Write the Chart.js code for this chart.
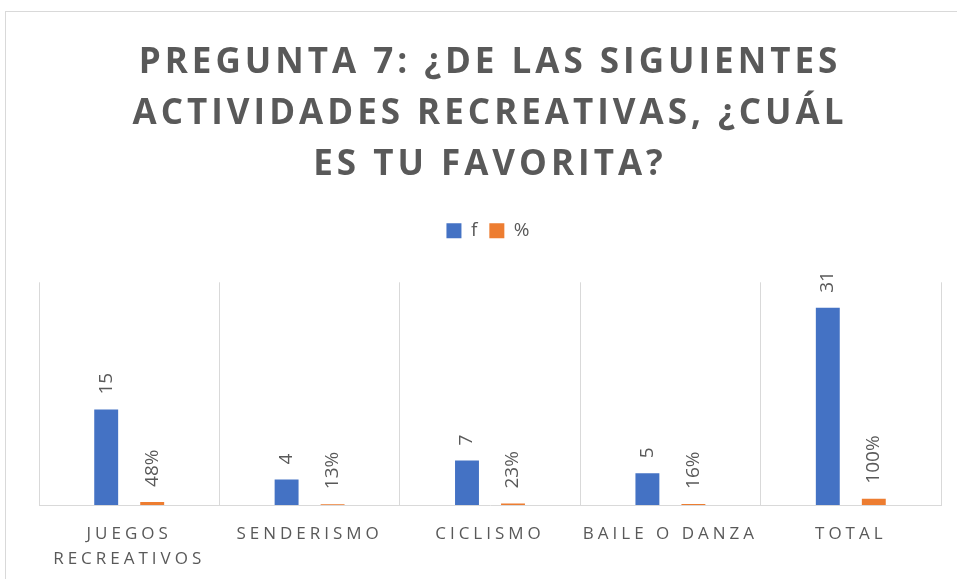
<!DOCTYPE html>
<html>
<head>
<meta charset="utf-8">
<script src="https://cdn.jsdelivr.net/npm/chart.js@4.4.1/dist/chart.umd.min.js"></script>
<style>
    html, body { margin: 0; padding: 0; background: #fff; overflow: hidden; }
    #frame { position: absolute; left: 5px; top: 11px; width: 1000px; height: 1000px; border: 1px solid #d9d9d9; }
    #chart { position: absolute; left: 0; top: 0; }
</style>
</head>
<body>
<div id="frame"></div>
<canvas id="chart" width="957" height="579"></canvas>
<script>
const titleLines = ['PREGUNTA 7: ¿DE LAS SIGUIENTES', 'ACTIVIDADES RECREATIVAS, ¿CUÁL', 'ES TU FAVORITA?'];
const categories = [['JUEGOS', 'RECREATIVOS'], 'SENDERISMO', 'CICLISMO', 'BAILE O DANZA', 'TOTAL'];
const freqValues = [15, 4, 7, 5, 31];
const pctValues = [0.48, 0.13, 0.23, 0.16, 1.00];

const grey = '#595959';

// espaçamento entre letras (título e rótulos do eixo)
const spacingPlugin = {
    id: 'spacing',
    beforeLayout(chart) { chart.ctx.letterSpacing = '4px'; },
    beforeDraw(chart) { chart.ctx.letterSpacing = '4px'; }
};

// espaço extra abaixo da legenda
const legendGap = {
    id: 'legendGap',
    beforeInit(chart) {
        const fit = chart.legend.fit;
        chart.legend.fit = function () {
            fit.bind(chart.legend)();
            this.height += 32;
        };
    }
};

// rótulos verticais acima das barras
const barLabels = {
    id: 'barLabels',
    afterDatasetsDraw(chart) {
        const ctx = chart.ctx;
        ctx.save();
        ctx.letterSpacing = '0px';
        ctx.font = '19px "Open Sans"';
        ctx.fillStyle = grey;
        ctx.textAlign = 'left';
        ctx.textBaseline = 'middle';
        chart.data.datasets.forEach((ds, i) => {
            chart.getDatasetMeta(i).data.forEach((bar, j) => {
                const v = ds.data[j];
                const text = i === 0 ? String(v) : Math.round(v * 100) + '%';
                ctx.save();
                ctx.translate(bar.x, bar.y - 15);
                ctx.rotate(-Math.PI / 2);
                ctx.fillText(text, 0, 0);
                ctx.restore();
            });
        });
        ctx.restore();
    }
};

new Chart(document.getElementById('chart').getContext('2d'), {
    type: 'bar',
    data: {
        labels: categories,
        datasets: [
            { label: 'f', data: freqValues, backgroundColor: '#4472C4', categoryPercentage: 0.51, barPercentage: 0.52 },
            { label: '%', data: pctValues, backgroundColor: '#ED7D31', categoryPercentage: 0.51, barPercentage: 0.52 }
        ]
    },
    options: {
        responsive: false,
        animation: false,
        layout: { padding: { left: 39, right: 16, top: 10, bottom: -9 } },
        plugins: {
            title: {
                display: true,
                text: titleLines,
                color: grey,
                font: { family: '"Open Sans"', size: 35, weight: 'bold', lineHeight: 1.46 },
                padding: { top: 27, bottom: 23 }
            },
            legend: {
                display: true,
                labels: {
                    color: grey,
                    boxWidth: 15,
                    boxHeight: 15,
                    padding: 8,
                    font: { family: '"Open Sans"', size: 19 }
                }
            },
            tooltip: { enabled: false }
        },
        scales: {
            x: {
                grid: { color: '#d9d9d9', drawTicks: false, offset: true },
                border: { color: '#d9d9d9' },
                ticks: {
                    color: grey,
                    padding: 16,
                    maxRotation: 0,
                    font: { family: '"Open Sans"', size: 17, lineHeight: 1.5 }
                }
            },
            y: { display: false, min: 0, max: 35 }
        }
    },
    plugins: [spacingPlugin, legendGap, barLabels]
});
</script>
</body>
</html>
